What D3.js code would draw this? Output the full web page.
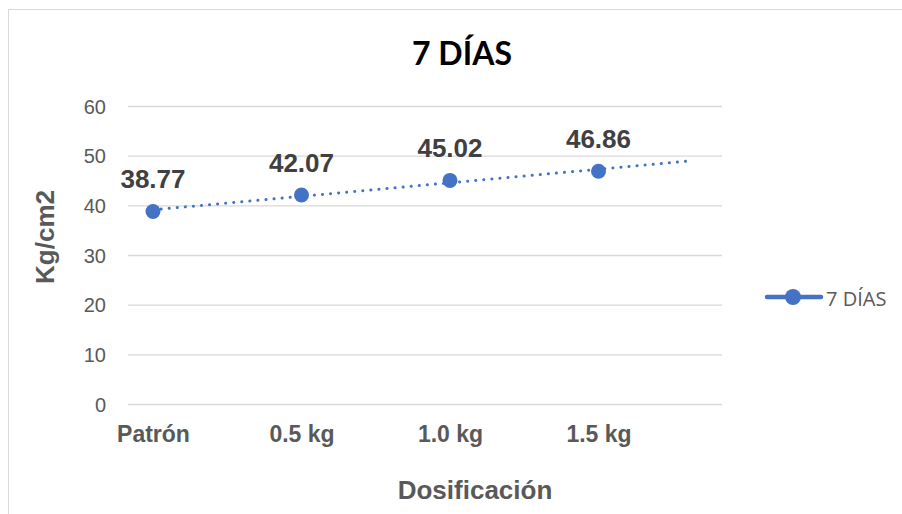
<!DOCTYPE html>
<html><head><meta charset="utf-8">
<script src="https://cdn.jsdelivr.net/npm/d3@7"></script>
<style>body{margin:0;background:#fff;}svg{display:block;}</style>
</head><body>
<svg id="c" width="902" height="514"></svg>
<script>
const categories = ["Patrón", "0.5 kg", "1.0 kg", "1.5 kg"];
const values = [38.77, 42.07, 45.02, 46.86];
const yTicks = [0, 10, 20, 30, 40, 50, 60];
const seriesName = "7 DÍAS";
const chartTitle = "7 DÍAS";
const yTitle = "Kg/cm2";
const xTitle = "Dosificación";
const trendForward = 0.63;

const svg = d3.select("#c");
const blue = "#4472C4", gray = "#595959";
const plot = {left:128, right:722, top:106, bottom:404};
const arial = "Liberation Sans, Arial, sans-serif";

svg.append("rect").attr("x",8.5).attr("y",9.5).attr("width",1000).attr("height",1000)
  .attr("fill","#fff").attr("stroke","#d9d9d9").attr("stroke-width",1);

const y = d3.scaleLinear().domain([0,60]).range([plot.bottom, plot.top]);
const xi = d3.scaleLinear().domain([0, categories.length-1]).range([153, 598.5]);
const xp = d3.scalePoint().domain(categories).range([153, 598.5]);

// gridlines
svg.append("g").selectAll("line").data(yTicks).join("line")
  .attr("x1",plot.left).attr("x2",plot.right)
  .attr("y1",d=>y(d)+0.5).attr("y2",d=>y(d)+0.5)
  .attr("stroke","#d9d9d9").attr("stroke-width",1.3);

// y axis labels
const yAxis = d3.axisLeft(y).tickValues(yTicks).tickSize(0).tickPadding(0);
const yg = svg.append("g").attr("transform","translate(106,0)").call(yAxis);
yg.select(".domain").remove();
yg.selectAll("text").attr("font-family",arial)
  .attr("font-size",20).attr("fill",gray).attr("dy","0.36em");

// x axis labels
const xAxis = d3.axisBottom(xp).tickSize(0).tickPadding(0);
const xg = svg.append("g").attr("transform","translate(0,0)").call(xAxis);
xg.select(".domain").remove();
xg.selectAll("text").attr("font-family",arial).attr("y",442).attr("dy",0)
  .attr("font-size",23).attr("font-weight","bold").attr("fill",gray);

// titles
svg.append("text").attr("x",462).attr("y",65).attr("text-anchor","middle")
  .attr("font-family","Lato, 'Open Sans', sans-serif").attr("font-weight","bold")
  .attr("font-size",32).attr("fill","#000").text(chartTitle);
svg.append("text").attr("x",475).attr("y",499).attr("text-anchor","middle")
  .attr("font-family",arial).attr("font-weight","bold")
  .attr("font-size",26).attr("fill",gray).text(xTitle);
svg.append("text").attr("transform","translate(54,237) rotate(-90)").attr("text-anchor","middle")
  .attr("font-family",arial).attr("font-weight","bold")
  .attr("font-size",26).attr("fill",gray).text(yTitle);

// trendline (linear regression)
const n = values.length;
const mx = d3.mean(values,(d,i)=>i), my = d3.mean(values);
const sxy = d3.sum(values,(d,i)=>(i-mx)*(d-my)), sxx = d3.sum(values,(d,i)=>(i-mx)*(i-mx));
const slope = sxy/sxx, icpt = my - slope*mx;
const tEnd = n-1+trendForward;
svg.append("line")
  .attr("x1",xi(0)).attr("y1",y(icpt))
  .attr("x2",xi(tEnd)).attr("y2",y(icpt+slope*tEnd))
  .attr("stroke",blue).attr("stroke-width",3).attr("stroke-linecap","round")
  .attr("stroke-dasharray","0.1 8");

// markers
svg.append("g").selectAll("circle").data(values).join("circle")
  .attr("cx",(d,i)=>xi(i)).attr("cy",d=>y(d)).attr("r",7.5).attr("fill",blue);

// data labels
svg.append("g").selectAll("text").data(values).join("text")
  .attr("x",(d,i)=>xi(i)).attr("y",d=>y(d)-23).attr("text-anchor","middle")
  .attr("font-family",arial).attr("font-weight","bold")
  .attr("font-size",26).attr("fill","#404040").text(d=>d.toFixed(2));

// legend
const lg = svg.append("g");
lg.append("line").attr("x1",767).attr("x2",821).attr("y1",297).attr("y2",297)
  .attr("stroke",blue).attr("stroke-width",4.5).attr("stroke-linecap","round");
lg.append("circle").attr("cx",793).attr("cy",297).attr("r",8).attr("fill",blue);
lg.append("text").attr("x",826).attr("y",306)
  .attr("font-family","'Open Sans', 'Noto Sans', sans-serif")
  .attr("font-size",20).attr("fill",gray).text(seriesName);
</script>
</body></html>
